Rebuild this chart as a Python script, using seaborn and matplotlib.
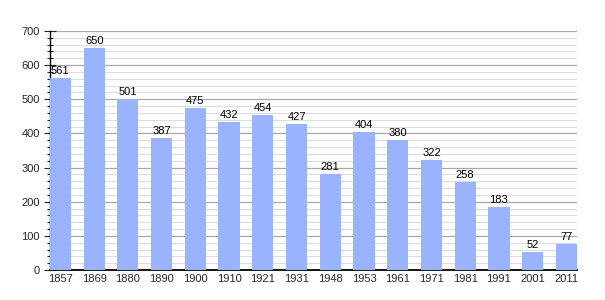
import matplotlib
matplotlib.use("Agg")
import matplotlib.pyplot as plt
from matplotlib.ticker import MultipleLocator
import seaborn as sns
import pandas as pd

years = ["1857", "1869", "1880", "1890", "1900", "1910", "1921", "1931", "1948",
         "1953", "1961", "1971", "1981", "1991", "2001", "2011"]
population = [561, 650, 501, 387, 475, 432, 454, 427, 281, 404, 380, 322, 258, 183, 52, 77]

df = pd.DataFrame({"year": years, "pop": population})

sns.set_style("white")
plt.rcParams['font.family'] = ['Liberation Sans', 'DejaVu Sans']

fig = plt.figure(figsize=(6.05, 3.0), dpi=100)
ax = fig.add_axes([0.082, 0.1, 0.872, 0.797])

sns.barplot(data=df, x="year", y="pop", color="#99b3ff", saturation=1, width=0.63,
            ax=ax, zorder=3, edgecolor="none", linewidth=0)

ax.set_ylim(0, 700)
ax.set_xlim(-0.32, 15.32)
ax.yaxis.set_major_locator(MultipleLocator(100))
ax.yaxis.set_minor_locator(MultipleLocator(20))
ax.grid(which="major", axis="y", color="#a8a8a8", linewidth=0.9, zorder=0)
ax.grid(which="minor", axis="y", color="#dcdcdc", linewidth=0.8, zorder=0)
ax.set_axisbelow(True)

for s in ["top", "right"]:
    ax.spines[s].set_visible(False)
ax.spines["left"].set_color("black")
ax.spines["bottom"].set_color("black")
ax.spines["left"].set_linewidth(1)
ax.spines["bottom"].set_linewidth(1.3)

ax.tick_params(axis="y", which="major", direction="inout", length=8, width=0.8, labelsize=8, pad=3, left=True)
ax.tick_params(axis="y", which="minor", direction="inout", length=4, width=0.8, left=True)
ax.tick_params(axis="x", length=0, labelsize=8, pad=3)
ax.set_xlabel("")
ax.set_ylabel("")

for i, v in enumerate(population):
    ax.text(i, v + 6, str(v), ha="center", va="bottom", fontsize=8, color="black", zorder=4)

fig.savefig("out.png", dpi=100)
